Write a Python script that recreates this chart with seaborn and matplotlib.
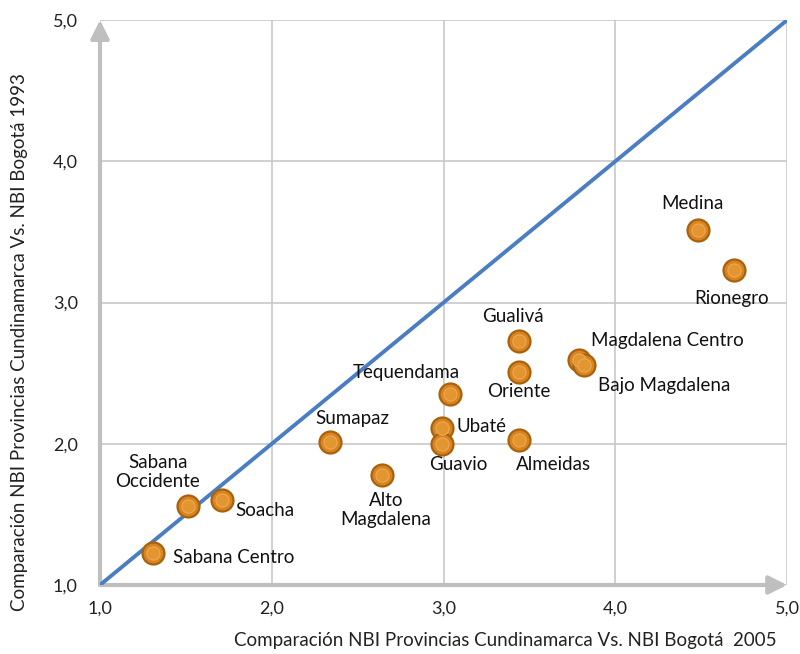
import numpy as np
import pandas as pd
import matplotlib
matplotlib.use("Agg")
import matplotlib.pyplot as plt
import seaborn as sns

# Données
provincias = ["Sabana Centro", "Sabana\nOccidente", "Soacha", "Sumapaz", "Alto\nMagdalena",
              "Tequendama", "Ubaté", "Guavio", "Gualivá", "Oriente", "Almeidas",
              "Magdalena Centro", "Bajo Magdalena", "Medina", "Rionegro"]
nbi_2005 = [1.31, 1.51, 1.71, 2.34, 2.64, 3.04, 2.99, 2.99, 3.44, 3.44, 3.44, 3.79, 3.82, 4.48, 4.69]
nbi_1993 = [1.23, 1.56, 1.60, 2.01, 1.78, 2.35, 2.11, 2.00, 2.73, 2.51, 2.03, 2.59, 2.56, 3.51, 3.23]
diagonal = [1.0, 5.0]
ticks = [1.0, 2.0, 3.0, 4.0, 5.0]
tick_labels = ["1,0", "2,0", "3,0", "4,0", "5,0"]

df = pd.DataFrame({"x": nbi_2005, "y": nbi_1993, "provincia": provincias})

# placement des étiquettes (pixels, alignement)
label_pos = {
    "Sabana Centro": (20, -5, "left"),
    "Sabana\nOccidente": (-30, 34, "center"),
    "Soacha": (13, -10, "left"),
    "Sumapaz": (22, 24, "center"),
    "Alto\nMagdalena": (4, -35, "center"),
    "Tequendama": (-44, 22, "center"),
    "Ubaté": (15, 2, "left"),
    "Guavio": (16, -21, "center"),
    "Gualivá": (-6, 24, "center"),
    "Oriente": (0, -20, "center"),
    "Almeidas": (34, -25, "center"),
    "Magdalena Centro": (12, 20, "left"),
    "Bajo Magdalena": (14, -21, "left"),
    "Medina": (-5, 27, "center"),
    "Rionegro": (-2, -28, "center"),
}

sns.set_style("white")
plt.rcParams["font.family"] = ["Lato", "DejaVu Sans"]

fig = plt.figure(figsize=(8, 6.54), dpi=100)
ax = fig.add_axes([0.125, 0.1055, 0.859, 0.8639])

ax.set_xlim(1, 5)
ax.set_ylim(1, 5)
ax.set_xticks(ticks)
ax.set_yticks(ticks)
ax.set_xticklabels(tick_labels)
ax.set_yticklabels(tick_labels)
ax.grid(True, color="#C8C8C8", linewidth=1.2)
ax.set_axisbelow(True)
for s in ax.spines.values():
    s.set_visible(False)
ax.tick_params(axis="both", length=5, width=1.2, color="#C8C8C8", labelsize=13,
               labelcolor="#222222", direction="out")
ax.tick_params(axis="x", pad=6)
ax.tick_params(axis="y", pad=11)

# flèches des axes
for fin in [(5, 1), (1, 5)]:
    ax.annotate("", xy=fin, xytext=(1, 1), xycoords="data",
                arrowprops=dict(arrowstyle="-|>,head_length=1.1,head_width=0.55", color="#BFBFBF",
                                lw=3, shrinkA=0, shrinkB=0), annotation_clip=False, zorder=2)

sns.lineplot(x=diagonal, y=diagonal, ax=ax, color="#4A7DC2", linewidth=2.8, zorder=3)

sns.scatterplot(data=df, x="x", y="y", ax=ax, s=250, color="#DA8420",
                edgecolor="#A8610C", linewidth=1.6, zorder=4, clip_on=False)
sns.scatterplot(data=df, x="x", y="y", ax=ax, s=90, color="#E3962F",
                edgecolor="#EBA95A", linewidth=0.8, zorder=5, clip_on=False)

for _, r in df.iterrows():
    dx, dy, ha = label_pos[r["provincia"]]
    ax.annotate(r["provincia"], (r["x"], r["y"]), xytext=(dx, dy), textcoords="offset pixels",
                ha=ha, va="center", fontsize=13.5, color="#111111", zorder=6,
                linespacing=1.15)

ax.set_xlabel("Comparación NBI Provincias Cundinamarca Vs. NBI Bogotá  2005",
              fontsize=13.5, color="#222222")
ax.set_ylabel("Comparación NBI Provincias Cundinamarca Vs. NBI Bogotá 1993",
              fontsize=13.5, color="#222222")
ax.xaxis.set_label_coords(0.59, -0.083)
ax.yaxis.set_label_coords(-0.105, 0.43)

fig.savefig("out.png", dpi=100)
